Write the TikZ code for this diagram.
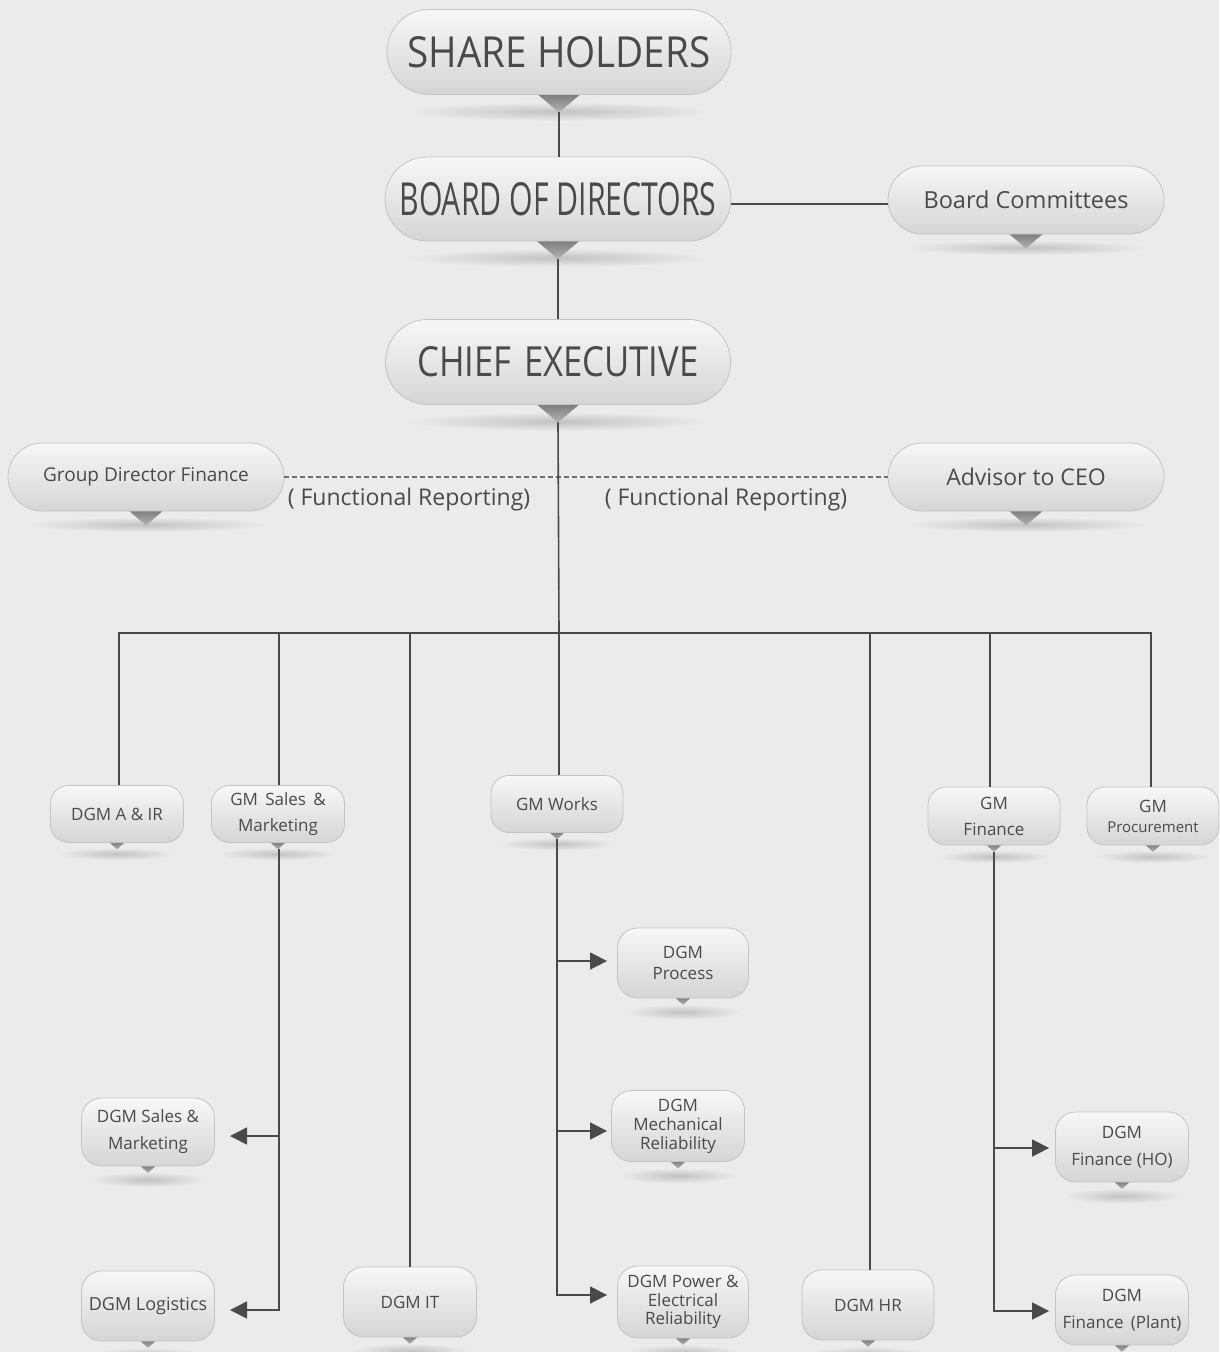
\documentclass[tikz,border=0pt]{standalone}
\usepackage{fontspec}
\usepackage{graphicx}
\setmainfont{Open Sans}
\usetikzlibrary{arrows.meta}
\definecolor{bg}{HTML}{EBEBEB}
\definecolor{ln}{HTML}{4A4A4A}
\definecolor{tx}{HTML}{4A4A4A}
\definecolor{boxtop}{HTML}{F7F7F7}
\definecolor{boxbot}{HTML}{D5D5D5}
\definecolor{boxline}{HTML}{C4C4C4}
\definecolor{tritop}{HTML}{7A7A7A}
\definecolor{tribot}{HTML}{B4B4B4}
\definecolor{shad}{HTML}{C2C2C2}
\tikzset{
  orgbox/.style={draw=boxline, line width=0.8pt, top color=boxtop, bottom color=boxbot,
    text=tx, align=center, inner sep=0pt},
  link/.style={draw=ln, line width=1.6pt},
  arr/.style={link, -{Triangle[length=17pt,width=17pt]}},
  dashlink/.style={draw=ln!80, line width=1.1pt, dash pattern=on 5pt off 3pt},
  lbl/.style={text=tx, inner sep=0pt}
}
% name, x, y, w, h, corner radius, font, text
\newcommand\orgnode[8]{%
  \shade[inner color=shad, outer color=bg] ({#2},{#3+0.5*#5+0.2*#5}) ellipse ({0.44*#4} and {0.11*#5});
  \shade[top color=tritop, bottom color=tribot] ({#2-0.065*#4},{#3+0.5*#5-1}) -- ({#2+0.065*#4},{#3+0.5*#5-1}) -- ({#2},{#3+0.5*#5+0.052*#4}) -- cycle;
  \coordinate (#1-tip) at ({#2},{#3+0.5*#5+0.052*#4});
  \node[orgbox, minimum width=#4pt, minimum height=#5pt, rounded corners=#6pt, font=#7] (#1) at (#2,#3) {#8};
}
\begin{document}
\begin{tikzpicture}[x=1pt,y=-1pt]
\fill[bg] (0,0) rectangle (1219,1352);
\useasboundingbox (0,0) rectangle (1219,1352);

% top level
\orgnode{sh}{559}{52}{344}{85}{42}{\normalsize}{\resizebox{303pt}{31pt}{SHARE HOLDERS}}
\orgnode{bod}{558}{199}{346}{84}{42}{\normalsize}{\resizebox{317pt}{33pt}{BOARD OF DIRECTORS}}
\orgnode{bc}{1026}{200}{276}{68}{34}{\fontsize{23.5}{26}\selectfont}{Board Committees}
\orgnode{ce}{558}{362}{345}{85}{42}{\normalsize}{\resizebox{281pt}{30pt}{CHIEF\hspace{0.1em} EXECUTIVE}}
\orgnode{gdf}{146}{477}{276}{68}{34}{\fontsize{19}{22}\selectfont}{Group Director Finance}
\orgnode{adv}{1026}{477}{276}{68}{34}{\fontsize{23}{26}\selectfont}{Advisor to CEO}

\node[lbl, font=\fontsize{23}{26}\selectfont] (fr1) at (409,500) {( Functional Reporting)};
\node[lbl, font=\fontsize{23}{26}\selectfont] (fr2) at (726,500) {( Functional Reporting)};

% second level
\orgnode{air}{117}{814}{133}{57}{18}{\fontsize{17}{20}\selectfont}{DGM A \& IR}
\orgnode{gms}{278}{814}{133}{57}{18}{\fontsize{17}{26}\selectfont}{GM\, Sales\, \&\\ Marketing}
\orgnode{gmw}{557}{804}{132}{57}{18}{\fontsize{17}{20}\selectfont}{GM Works}
\orgnode{gmf}{994}{816}{132}{58}{18}{\fontsize{17}{26}\selectfont}{GM\\ Finance}
\orgnode{gmp}{1153}{816}{132}{58}{18}{\fontsize{17}{20}\selectfont}{GM\\ {\fontsize{15}{18}\selectfont Procurement}}

% third level
\orgnode{dpr}{683}{963}{131}{70}{20}{\fontsize{17}{21}\selectfont}{DGM\\ Process}
\orgnode{dmr}{678}{1126}{133}{71}{20}{\fontsize{17}{19}\selectfont}{DGM\\ Mechanical\\ Reliability}
\orgnode{dpe}{683}{1302}{131}{72}{20}{\fontsize{17}{18.5}\selectfont}{DGM Power \&\\ Electrical\\ Reliability}
\orgnode{dsm}{148}{1132}{133}{68}{20}{\fontsize{17}{27}\selectfont}{DGM Sales \&\\ Marketing}
\orgnode{dlg}{148}{1306}{133}{70}{20}{\fontsize{18}{21}\selectfont}{DGM Logistics}
\orgnode{dit}{410}{1302}{133}{70}{20}{\fontsize{17}{20}\selectfont}{DGM IT}
\orgnode{dhr}{868}{1305}{132}{70}{20}{\fontsize{17}{20}\selectfont}{DGM HR}
\orgnode{dfh}{1122}{1147}{133}{70}{20}{\fontsize{17}{27}\selectfont}{DGM\\ Finance (HO)}
\orgnode{dfp}{1122}{1310}{133}{70}{20}{\fontsize{17}{27}\selectfont}{DGM\\ Finance\, (Plant)}

% connectors top
\draw[link] (sh-tip) -- (sh-tip |- bod.north);
\draw[link] (bod-tip) -- (bod-tip |- ce.north);
\draw[link] (bod.east |- 0,204) -- (bc.west |- 0,204);
\draw[dashlink] (gdf.east) -- (adv.east -| adv.west);
\coordinate (bus) at (559,633);
\draw[link] (ce-tip) -- (bus);
\draw[link] (bus) -| ([xshift=2pt]air.north);
\draw[link] (bus) -| ([xshift=1pt]gms.north);
\draw[link] (bus) -| (dit.north);
\draw[link] (bus) -- ([xshift=2pt]gmw.north);
\draw[link] (bus) -| ([xshift=2pt]dhr.north);
\draw[link] (bus) -| ([xshift=-4pt]gmf.north);
\draw[link] (bus) -| ([xshift=-2pt]gmp.north);

% GM Sales branch
\coordinate (gmsv) at ([xshift=1pt]gms-tip);
\draw[link] (gmsv) -- (gmsv |- 0,1310) -- (246,1310);
\draw[arr] (gmsv |- 0,1136) -- (230,1136);
\draw[arr] (246,1310) -- (230,1310);

% GM Works branch
\draw[link] (gmw-tip) -- (gmw-tip |- 0,1295) -- (590,1295);
\draw[arr] (gmw-tip |- 0,961) -- ([xshift=-10pt]dpr.west |- 0,961);
\draw[arr] (gmw-tip |- 0,1131) -- ([xshift=-4pt]dmr.west |- 0,1131);
\draw[arr] (590,1295) -- ([xshift=-10pt]dpe.west |- 0,1295);

% GM Finance branch
\draw[link] (gmf-tip) -- (gmf-tip |- 0,1311) -- (1030,1311);
\draw[arr] (gmf-tip |- 0,1148) -- ([xshift=-6pt]dfh.west |- 0,1148);
\draw[arr] (1030,1311) -- ([xshift=-6pt]dfp.west |- 0,1311);
\end{tikzpicture}
\end{document}
